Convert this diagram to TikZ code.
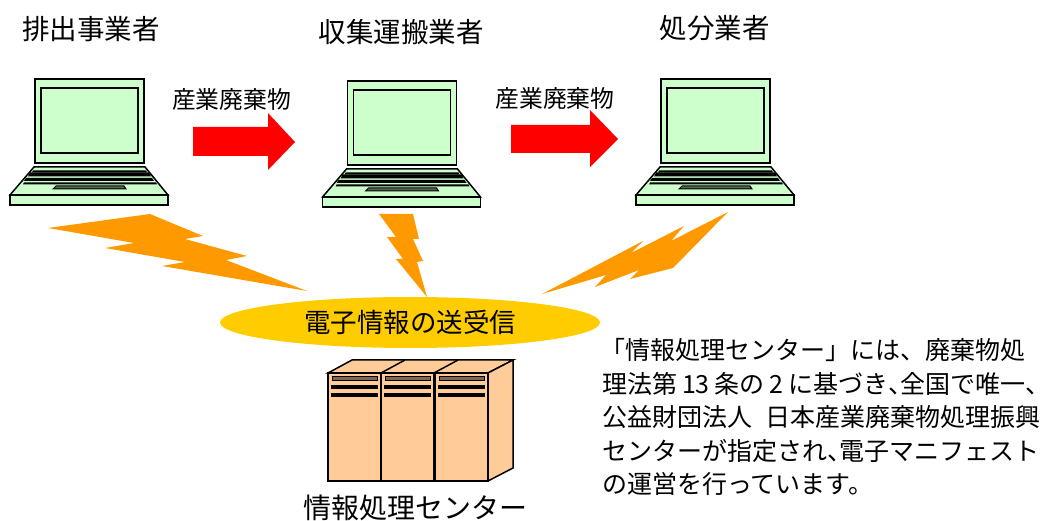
\documentclass[tikz,border=0pt]{standalone}
\usepackage{fontspec}
\setmainfont{Noto Sans CJK JP}
\definecolor{lapgreen}{HTML}{CCFFCC}
\definecolor{boltor}{HTML}{FF9900}
\definecolor{ellyel}{HTML}{FFCC00}
\definecolor{srv}{HTML}{FFCC99}
\XeTeXlinebreaklocale "ja"
\XeTeXlinebreakskip=0pt plus .5em minus .2em
\newcommand{\hcomma}{{\addfontfeature{RawFeature=+halt}、}}
\tikzset{
  ln/.style={draw=black,line width=1.5pt,line join=miter},
  lap/.style={ln,fill=lapgreen},
  bolt/.style={fill=boltor,draw=none},
  redarrow/.style={fill=red,draw=none},
  srvface/.style={ln,fill=srv},
  titletext/.style={inner sep=0pt,font=\fontsize{27.5pt}{30pt}\selectfont,anchor=center},
  ctext/.style={inner sep=0pt,font=\fontsize{26.5pt}{30pt}\selectfont,anchor=center},
  captext/.style={inner sep=0pt,font=\fontsize{28pt}{30pt}\selectfont,anchor=center},
  wastetext/.style={inner sep=0pt,font=\fontsize{23.8pt}{26pt}\selectfont,anchor=center},
  bodytext/.style={inner sep=0pt,font=\fontsize{25pt}{28pt}\selectfont,anchor=west}
}
\newcommand{\laptop}[2]{%
 \begin{scope}[shift={(#1,#2)}]
  \path[lap] (35,79) rectangle (144,163);
  \path[lap] (41,88) rectangle (138,153);
  \path[lap] (34,167) -- (145,167) -- (168,195) -- (10,195) -- cycle;
  \path[lap] (10,195) rectangle (168,205);
  \path[fill=black] (33,170.5) -- (146,170.5) -- (147,172.5) -- (32,172.5) -- cycle;
  \path[fill=black] (30,172.5) -- (149,172.5) -- (151,176.5) -- (28,176.5) -- cycle;
  \path[fill=black] (26,178) -- (152,178) -- (154,181) -- (24,181) -- cycle;
  \path[fill=black] (24,182.5) -- (156,182.5) -- (157,184.5) -- (23,184.5) -- cycle;
  \path[ln,line width=1pt,fill=lapgreen!40!black] (56,186) -- (124,186) -- (126,189) -- (53,189) -- cycle;
 \end{scope}}
\newcommand{\rack}[1]{%
 \begin{scope}[shift={(#1,0)}]
  \path[srvface] (328,373) rectangle (381,481);
  \path[ln,line width=1pt,fill=srv!50!black] (332,377) rectangle (377,381);
  \fill[black] (331,385) rectangle (377.5,389);
  \fill[black] (331,393) rectangle (377.5,397);
 \end{scope}}
\begin{document}
\begin{tikzpicture}[x=1pt,y=-1pt]
\useasboundingbox (0,0) rectangle (1042,521);
\laptop{0}{0}
\laptop{312.5}{2}
\laptop{626}{0}
\path[redarrow] (193,127) -- (268,127) -- (268,113) -- (295,142) -- (268,170) -- (268,156) -- (193,156) -- cycle;
\path[redarrow] (511,125) -- (590,125) -- (590,110) -- (618,139) -- (590,167) -- (590,153) -- (511,153) -- cycle;
\node[titletext] (t1) at (91,29) {排出事業者};
\node[titletext] (t2) at (401,32) {収集運搬業者};
\node[titletext] (t3) at (714.5,28) {処分業者};
\node[wastetext] (w1) at (231.5,99) {産業廃棄物};
\node[wastetext] (w2) at (555,98) {産業廃棄物};
\path[bolt] (48,228) -- (150,214) -- (203,236) -- (185,239) -- (247,256) -- (226,260) -- (307,291) -- (162,266) -- (185,262) -- (105,248) -- (134,243) -- cycle;
\path[bolt] (379,214) -- (413,214) -- (419,239) -- (413,239) -- (423,261) -- (417,262) -- (427,297) -- (396,259) -- (403,259) -- (387,237) -- (396,237) -- cycle;
\path[bolt] (728,212) -- (673,268) -- (630,279) -- (639,270) -- (595,287) -- (606,275) -- (542,294) -- (643,241) -- (631,253) -- (684,226) -- (671,241) -- cycle;
\path[fill=ellyel] (410,322.5) ellipse [x radius=190,y radius=25.5];
\node[ctext] (e) at (410,322) {電子情報の送受信};
\path[srvface] (328,373) -- (352,360) -- (513,360) -- (488,373) -- cycle;
\path[srvface] (488,373) -- (513,360) -- (513,468) -- (488,481) -- cycle;
\draw[ln] (381,373) -- (405,360);
\draw[ln] (434,373) -- (458,360);
\rack{0}
\rack{53}
\rack{107}
\node[captext] (c) at (415,508) {情報処理センター};
\node[bodytext] (l1) at (600,350) {\hbox to 441pt{「情報処理センター」には、廃棄物処}};
\node[bodytext] (l2) at (602,383.5) {\hbox to 436pt{理法第 13 条の 2 に基づき\hcomma 全国で唯一\hcomma}};
\node[bodytext] (l3) at (602,417) {\hbox to 438pt{公益財団法人 \kern.4em 日本産業廃棄物処理振興}};
\node[bodytext] (l4) at (602,450.5) {\hbox to 438pt{センターが指定され\hcomma 電子マニフェスト}};
\node[bodytext] (l5) at (602,484) {の運営を行っています。};
\end{tikzpicture}
\end{document}
